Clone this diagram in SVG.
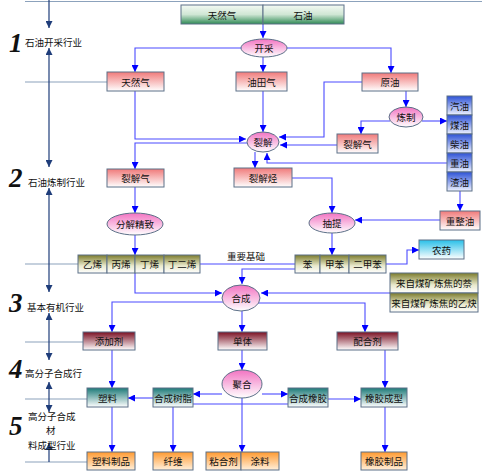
<svg xmlns="http://www.w3.org/2000/svg" width="482" height="471" viewBox="0 0 482 471">
<defs>
<linearGradient id="gGreen" x1="0" y1="0" x2="0" y2="1"><stop offset="0" stop-color="#f4faf4"/><stop offset="0.5" stop-color="#cfe6d4"/><stop offset="1" stop-color="#2f8a55"/></linearGradient>
<linearGradient id="gPink" x1="0" y1="0" x2="0" y2="1"><stop offset="0" stop-color="#f07a7a"/><stop offset="1" stop-color="#ffffff"/></linearGradient>
<linearGradient id="gEll" x1="0" y1="0" x2="0" y2="1"><stop offset="0" stop-color="#f274c2"/><stop offset="1" stop-color="#ffffff"/></linearGradient>
<linearGradient id="gBlue" x1="0" y1="0" x2="0" y2="1"><stop offset="0" stop-color="#2d52d6"/><stop offset="1" stop-color="#eef2ff"/></linearGradient>
<linearGradient id="gOlive" x1="0" y1="0" x2="0" y2="1"><stop offset="0" stop-color="#7b7b2c"/><stop offset="0.6" stop-color="#e9e9cc"/><stop offset="1" stop-color="#ffffff"/></linearGradient>
<linearGradient id="gCyan" x1="0" y1="0" x2="0" y2="1"><stop offset="0" stop-color="#28bfe8"/><stop offset="1" stop-color="#ffffff"/></linearGradient>
<linearGradient id="gMaroon" x1="0" y1="0" x2="0" y2="1"><stop offset="0" stop-color="#7a0f22"/><stop offset="1" stop-color="#ffffff"/></linearGradient>
<linearGradient id="gTeal" x1="0" y1="0" x2="0" y2="1"><stop offset="0" stop-color="#1d7a78"/><stop offset="1" stop-color="#ffffff"/></linearGradient>
<linearGradient id="gOrange" x1="0" y1="0" x2="0" y2="1"><stop offset="0" stop-color="#ff9a30"/><stop offset="1" stop-color="#fff0dc"/></linearGradient>
<marker id="a" viewBox="0 0 8 8" refX="8" refY="4" markerWidth="7" markerHeight="7" markerUnits="userSpaceOnUse" orient="auto"><path d="M0,0 L8,4 L0,8 z" fill="#0000ff"/></marker>
<marker id="n" viewBox="0 0 8 8" refX="8" refY="4" markerWidth="7" markerHeight="7" markerUnits="userSpaceOnUse" orient="auto-start-reverse"><path d="M0,0 L8,4 L0,8 z" fill="#1f3d7a"/></marker>
<style>
.bx{stroke:#5d7088;stroke-width:1}
.el{fill:url(#gEll);stroke:#5d7088;stroke-width:1}
.t{font-family:"Noto Sans CJK SC","Noto Sans",sans-serif;font-size:9.5px;fill:#111;text-anchor:middle;dominant-baseline:central}
.s{font-family:"Noto Sans CJK SC","Noto Sans",sans-serif;font-size:9.5px;fill:#111}
.num{font-family:"Liberation Serif",serif;font-size:27px;font-weight:bold;font-style:italic;fill:#111}
.c path{fill:none;stroke:#4a4aff;stroke-width:1.1;marker-end:url(#a)}
.c path.na{marker-end:none}
.ax{fill:none;stroke:#1f3d7a;stroke-width:1.2}
.gl{fill:none;stroke:#8ca2bc;stroke-width:1.2}
</style>
</defs>
<rect width="482" height="471" fill="#ffffff"/>

<g id="guides">
<line class="gl" x1="25" y1="1.5" x2="482" y2="1.5"/>
<line class="gl" x1="25" y1="82" x2="107" y2="82"/>
<line class="gl" x1="25" y1="264" x2="78" y2="264"/>
<line class="gl" x1="25" y1="342" x2="83" y2="342"/>
<line class="gl" x1="25" y1="399" x2="87" y2="399"/>
<line class="gl" x1="25" y1="462" x2="87" y2="462"/>
</g>

<g id="axis">
<path class="ax" d="M49,0 V28" marker-end="url(#n)"/>
<path class="ax" d="M49,48 V167" marker-start="url(#n)" marker-end="url(#n)"/>
<path class="ax" d="M49,188 V292" marker-start="url(#n)" marker-end="url(#n)"/>
<path class="ax" d="M49,313 V360" marker-start="url(#n)" marker-end="url(#n)"/>
<path class="ax" d="M49,382 V412" marker-start="url(#n)" marker-end="url(#n)"/>
<path class="ax" d="M49,443 V462" marker-start="url(#n)"/>
</g>

<g id="stages">
<text class="num" x="9" y="52">1</text><text class="s" x="25" y="46">石油开采行业</text>
<text class="num" x="9" y="187">2</text><text class="s" x="28" y="186">石油炼制行业</text>
<text class="num" x="9" y="312">3</text><text class="s" x="27" y="311">基本有机行业</text>
<text class="num" x="9" y="378">4</text><text class="s" x="25" y="377">高分子合成行</text>
<text class="num" x="9" y="435">5</text><text class="s" x="28" y="420">高分子合成</text><text class="s" x="46" y="434">材</text><text class="s" x="28" y="449">料成型行业</text>
</g>

<g class="c" id="connectors">
<path d="M263,24 V38"/>
<path d="M241,48 H135 V72"/>
<path d="M287,48 H391 V73"/>
<path d="M263,57 V72"/>
<path d="M135,91 V139 H246"/>
<path d="M247,143 H135 V169"/>
<path d="M263,91 V132"/>
<path d="M362,82 H324 V137 H279"/>
<path d="M337,145 H280"/>
<path d="M447,163 H267 V153"/>
<path d="M255,152 V168"/>
<path d="M406,91 V107"/>
<path d="M390,121 H361 V134"/>
<path d="M422,121 H447"/>
<path d="M460,191 V211"/>
<path d="M440,220 H355"/>
<path d="M292,178 H332 V213"/>
<path d="M135,187 V213"/>
<path d="M135,235 V255"/>
<path d="M135,273 V293 H222"/>
<path class="na" d="M200,264 H295"/>
<path d="M332,233 V255"/>
<path d="M295,269 H242 V284"/>
<path d="M386,264 H407 V250 H419"/>
<path d="M390,293 H261"/>
<path d="M258,303 H365 V332"/>
<path d="M223,302 H112 V332"/>
<path d="M242,311 V332"/>
<path d="M242,350 V370"/>
<path d="M222,394 H193"/>
<path d="M262,394 H288"/>
<path class="na" d="M193,404 H288"/>
<path d="M242,398 V452"/>
<path d="M153,398 H128"/>
<path d="M112,350 V388"/>
<path d="M112,407 V452"/>
<path d="M173,407 V452"/>
<path d="M328,399 H361"/>
<path d="M385,350 V388"/>
<path d="M385,407 V452"/>
</g>
<text class="t" x="246" y="256">重要基础</text>

<g id="n-top"><rect class="bx" x="181" y="5" width="82" height="19" fill="url(#gGreen)"/><rect class="bx" x="263" y="5" width="81" height="19" fill="url(#gGreen)"/><text class="t" x="222" y="15">天然气</text><text class="t" x="303" y="15">石油</text></g>
<g id="n-kaicai"><ellipse class="el" cx="264" cy="48" rx="23" ry="9"/><text class="t" x="264" y="48">开采</text></g>
<g id="n-trq"><rect class="bx" x="107" y="72" width="57" height="19" fill="url(#gPink)"/><text class="t" x="135.5" y="82">天然气</text></g>
<g id="n-ytq"><rect class="bx" x="236" y="72" width="51" height="19" fill="url(#gPink)"/><text class="t" x="261.5" y="82">油田气</text></g>
<g id="n-yy"><rect class="bx" x="362" y="73" width="56" height="18" fill="url(#gPink)"/><text class="t" x="390" y="82">原油</text></g>
<g id="n-lianzhi"><ellipse class="el" cx="406" cy="117" rx="17" ry="10"/><text class="t" x="406" y="117">炼制</text></g>
<g id="n-liejie"><ellipse class="el" cx="263" cy="142" rx="16" ry="10"/><text class="t" x="263" y="142">裂解</text></g>
<g id="n-ljq2"><rect class="bx" x="337" y="134" width="41" height="19" fill="url(#gPink)"/><text class="t" x="357.5" y="144">裂解气</text></g>
<g id="n-oils">
<rect class="bx" x="447" y="96" width="25" height="19" fill="url(#gBlue)"/><text class="t" x="459.5" y="106">汽油</text>
<rect class="bx" x="447" y="115" width="25" height="19" fill="url(#gBlue)"/><text class="t" x="459.5" y="125">煤油</text>
<rect class="bx" x="447" y="134" width="25" height="19" fill="url(#gBlue)"/><text class="t" x="459.5" y="144">柴油</text>
<rect class="bx" x="447" y="153" width="25" height="19" fill="url(#gBlue)"/><text class="t" x="459.5" y="163">重油</text>
<rect class="bx" x="447" y="172" width="25" height="19" fill="url(#gBlue)"/><text class="t" x="459.5" y="182">渣油</text>
</g>
<g id="n-ljq1"><rect class="bx" x="107" y="169" width="57" height="18" fill="url(#gPink)"/><text class="t" x="135.5" y="178">裂解气</text></g>
<g id="n-ljt"><rect class="bx" x="234" y="168" width="58" height="19" fill="url(#gPink)"/><text class="t" x="263" y="178">裂解烃</text></g>
<g id="n-fjjz"><ellipse class="el" cx="135" cy="224" rx="28" ry="11"/><text class="t" x="135" y="224">分解精致</text></g>
<g id="n-chouti"><ellipse class="el" cx="332" cy="223" rx="23" ry="10"/><text class="t" x="332" y="223">抽提</text></g>
<g id="n-czy"><rect class="bx" x="440" y="211" width="40" height="19" fill="url(#gPink)"/><text class="t" x="460" y="221">重整油</text></g>
<g id="n-olefins">
<rect class="bx" x="78" y="255" width="29" height="18" fill="url(#gOlive)"/><text class="t" x="92.5" y="264">乙烯</text>
<rect class="bx" x="107" y="255" width="28" height="18" fill="url(#gOlive)"/><text class="t" x="121" y="264">丙烯</text>
<rect class="bx" x="135" y="255" width="29" height="18" fill="url(#gOlive)"/><text class="t" x="149.5" y="264">丁烯</text>
<rect class="bx" x="164" y="255" width="36" height="18" fill="url(#gOlive)"/><text class="t" x="182" y="264">丁二烯</text>
</g>
<g id="n-aromatics">
<rect class="bx" x="295" y="255" width="25" height="18" fill="url(#gOlive)"/><text class="t" x="307.5" y="264">苯</text>
<rect class="bx" x="320" y="255" width="29" height="18" fill="url(#gOlive)"/><text class="t" x="334.5" y="264">甲苯</text>
<rect class="bx" x="349" y="255" width="37" height="18" fill="url(#gOlive)"/><text class="t" x="367.5" y="264">二甲苯</text>
</g>
<g id="n-nongyao"><rect class="bx" x="419" y="240" width="45" height="19" fill="url(#gCyan)"/><text class="t" x="441.5" y="250">农药</text></g>
<g id="n-coal">
<rect class="bx" x="390" y="273" width="88" height="20" fill="url(#gOlive)"/><text class="t" x="434" y="283">来自煤矿炼焦的萘</text>
<rect class="bx" x="390" y="293" width="88" height="19" fill="url(#gOlive)"/><text class="t" x="434" y="303">来自煤矿炼焦的乙炔</text>
</g>
<g id="n-hecheng"><ellipse class="el" cx="241" cy="298" rx="19" ry="13"/><text class="t" x="241" y="298">合成</text></g>
<g id="n-tjj"><rect class="bx" x="83" y="332" width="52" height="18" fill="url(#gMaroon)"/><text class="t" x="109" y="341">添加剂</text></g>
<g id="n-danti"><rect class="bx" x="218" y="332" width="49" height="18" fill="url(#gMaroon)"/><text class="t" x="242.5" y="341">单体</text></g>
<g id="n-phj"><rect class="bx" x="337" y="332" width="61" height="18" fill="url(#gMaroon)"/><text class="t" x="367.5" y="341">配合剂</text></g>
<g id="n-juhe"><ellipse class="el" cx="242" cy="384" rx="20" ry="14"/><text class="t" x="242" y="384">聚合</text></g>
<g id="n-suliao"><rect class="bx" x="87" y="388" width="41" height="19" fill="url(#gTeal)"/><text class="t" x="107.5" y="398">塑料</text></g>
<g id="n-hcsz"><rect class="bx" x="153" y="388" width="40" height="19" fill="url(#gTeal)"/><text class="t" x="173" y="398">合成树脂</text></g>
<g id="n-hcxj"><rect class="bx" x="288" y="388" width="40" height="19" fill="url(#gTeal)"/><text class="t" x="308" y="398">合成橡胶</text></g>
<g id="n-xjcx"><rect class="bx" x="361" y="388" width="46" height="19" fill="url(#gTeal)"/><text class="t" x="384" y="398">橡胶成型</text></g>
<g id="n-slzp"><rect class="bx" x="87" y="452" width="48" height="18" fill="url(#gOrange)"/><text class="t" x="111" y="461">塑料制品</text></g>
<g id="n-xianwei"><rect class="bx" x="153" y="452" width="40" height="18" fill="url(#gOrange)"/><text class="t" x="173" y="461">纤维</text></g>
<g id="n-nhj"><rect class="bx" x="206" y="452" width="35" height="18" fill="url(#gOrange)"/><text class="t" x="223.5" y="461">粘合剂</text></g>
<g id="n-tuliao"><rect class="bx" x="241" y="452" width="38" height="18" fill="url(#gOrange)"/><text class="t" x="260" y="461">涂料</text></g>
<g id="n-xjzp"><rect class="bx" x="361" y="452" width="46" height="18" fill="url(#gOrange)"/><text class="t" x="384" y="461">橡胶制品</text></g>
</svg>
